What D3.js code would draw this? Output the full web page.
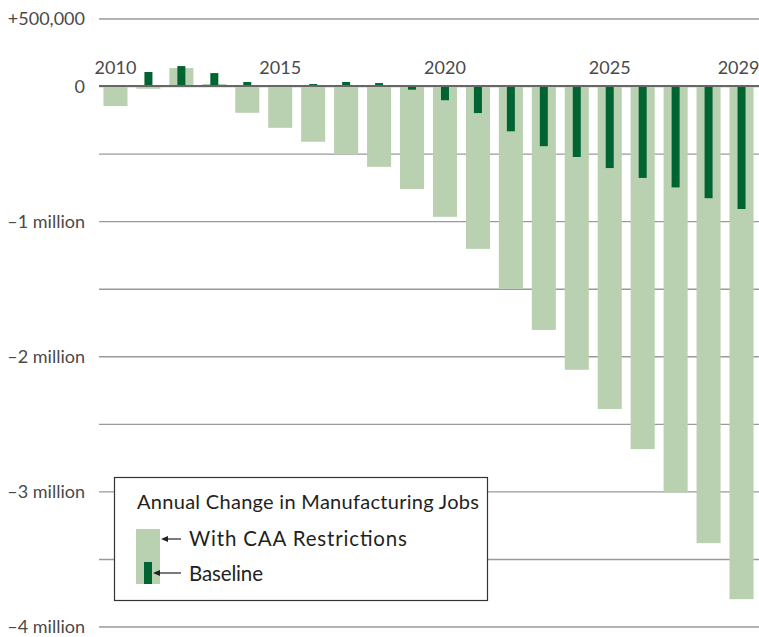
<!DOCTYPE html>
<html>
<head>
<meta charset="utf-8">
<script src="https://cdn.jsdelivr.net/npm/d3@7"></script>
<style>
  html, body { margin: 0; padding: 0; background: #fff; }
  svg { display: block; font-family: Lato, "Open Sans", sans-serif; }
</style>
</head>
<body>
<svg id="chart" width="759" height="637"></svg>
<script>
const years = [2010, 2011, 2012, 2013, 2014, 2015, 2016, 2017, 2018, 2019,
               2020, 2021, 2022, 2023, 2024, 2025, 2026, 2027, 2028, 2029];
const withCAA = [-148000, -20000, 133000, 15000, -198000, -309000, -412000, -506000, -598000, -763000,
                 -968000, -1205000, -1500000, -1805000, -2100000, -2390000, -2687000, -3010000, -3383000, -3798000];
const baseline = [0, 104000, 148000, 96000, 30000, 8000, 15000, 30000, 22000, -27000,
                  -105000, -200000, -335000, -445000, -525000, -607000, -680000, -750000, -830000, -910000];
const yTicks = [500000, 0, -500000, -1000000, -1500000, -2000000, -2500000, -3000000, -3500000, -4000000];
const yLabels = {"500000": "+500,000", "0": "0", "-1000000": "–1 million", "-2000000": "–2 million",
                 "-3000000": "–3 million", "-4000000": "–4 million"};
const yearLabels = [2010, 2015, 2020, 2025, 2029];
const legendTitle = "Annual Change in Manufacturing Jobs";
const legendItems = ["With CAA Restrictions", "Baseline"];

const lightGreen = "#b9d1b0";
const darkGreen = "#006432";

const svg = d3.select("#chart");
const left = 99, right = 759;

const x = d3.scaleBand().domain(years).range([left, 758]).paddingInner(0.27).paddingOuter(0.135);
const y = d3.scaleLinear().domain([-4000000, 500000]).range([626.5, 18.5]);

// gridlines + y labels
const yAxis = d3.axisLeft(y)
  .tickValues(yTicks)
  .tickSizeInner(-(right - left))
  .tickSizeOuter(0)
  .tickPadding(14)
  .tickFormat(d => yLabels[String(d)] || "");
const gy = svg.append("g").attr("transform", `translate(${left},0)`).call(yAxis);
gy.select(".domain").remove();
gy.selectAll(".tick line").attr("stroke", "#9a9a9a").attr("stroke-width", 1.4);
gy.selectAll(".tick text").attr("fill", "#4a4a4a").attr("font-size", 18).attr("dy", "0.36em")
  .attr("font-family", "Lato, sans-serif");

// light bars
svg.append("g").selectAll("rect").data(years).join("rect")
  .attr("x", d => x(d))
  .attr("width", x.bandwidth())
  .attr("y", (d, i) => y(Math.max(0, withCAA[i])))
  .attr("height", (d, i) => Math.abs(y(withCAA[i]) - y(0)))
  .attr("fill", lightGreen);

// dark bars
const dw = 8;
svg.append("g").selectAll("rect").data(years).join("rect")
  .attr("x", d => x(d) + x.bandwidth() / 2 - dw / 2)
  .attr("width", dw)
  .attr("y", (d, i) => y(Math.max(0, baseline[i])))
  .attr("height", (d, i) => Math.abs(y(baseline[i]) - y(0)))
  .attr("fill", darkGreen);

// zero line
svg.append("line").attr("x1", left).attr("x2", right)
  .attr("y1", y(0)).attr("y2", y(0))
  .attr("stroke", "#666").attr("stroke-width", 2);

// year labels
const xAxis = d3.axisTop(x).tickValues(yearLabels).tickSize(0).tickPadding(12);
const gx = svg.append("g").attr("transform", `translate(0,${y(0)})`).call(xAxis);
gx.select(".domain").remove();
gx.selectAll(".tick text").attr("fill", "#4a4a4a").attr("font-size", 18)
  .attr("font-family", "Lato, sans-serif")
  .attr("dx", d => d === 2029 ? -3 : 0);

// legend
const lg = svg.append("g");
lg.append("rect").attr("x", 114.5).attr("y", 477.5).attr("width", 373).attr("height", 123)
  .attr("fill", "#fff").attr("stroke", "#333").attr("stroke-width", 1.2);
lg.append("text").attr("x", 137).attr("y", 509).attr("font-size", 20).attr("fill", "#231f20")
  .attr("textLength", 342).attr("lengthAdjust", "spacing")
  .text(legendTitle);
lg.append("rect").attr("x", 136).attr("y", 529).attr("width", 24).attr("height", 55).attr("fill", lightGreen);
lg.append("rect").attr("x", 144).attr("y", 562).attr("width", 8).attr("height", 22).attr("fill", darkGreen);
function arrow(x1, x2, yy) {
  lg.append("line").attr("x1", x1).attr("x2", x2 + 5).attr("y1", yy).attr("y2", yy)
    .attr("stroke", "#222").attr("stroke-width", 1.2);
  lg.append("path").attr("d", `M${x2},${yy} L${x2 + 7},${yy - 3} L${x2 + 7},${yy + 3} Z`).attr("fill", "#222");
}
arrow(181, 161, 539);
arrow(181, 153, 573);
lg.append("text").attr("x", 189).attr("y", 546).attr("font-size", 20.5).attr("fill", "#231f20")
  .attr("textLength", 218).attr("lengthAdjust", "spacing").text(legendItems[0]);
lg.append("text").attr("x", 189).attr("y", 581).attr("font-size", 20.5).attr("fill", "#231f20")
  .attr("textLength", 74).attr("lengthAdjust", "spacing").text(legendItems[1]);
</script>
</body>
</html>
